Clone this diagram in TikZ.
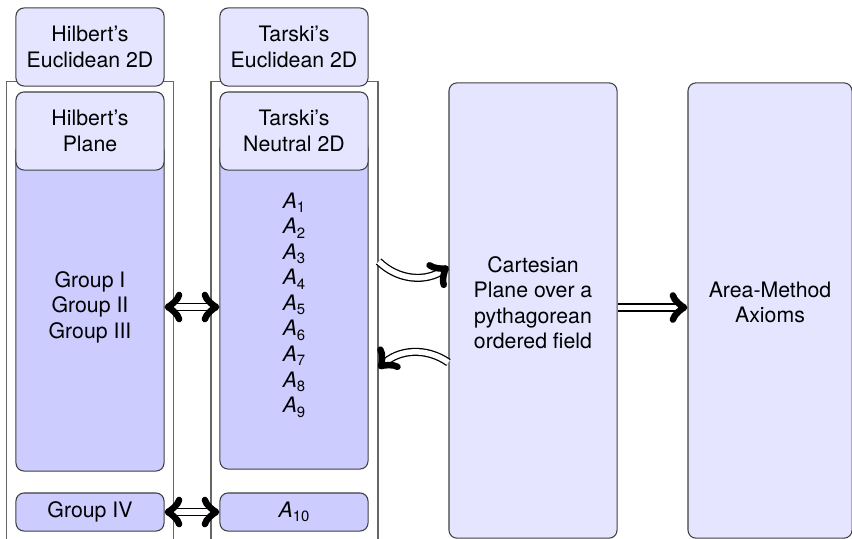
\documentclass[tikz,border=0pt]{standalone}
\usepackage{fontspec}
\setmainfont{TeX Gyre Heros}
\usetikzlibrary{calc}

\tikzset{
  axbox/.style={draw=black!75, line width=0.5pt, rounded corners=3.8pt, align=center, inner sep=0pt, minimum width=69.6pt},
  headbox/.style={axbox, fill=blue!10, minimum height=36.7pt},
  bodybox/.style={axbox, fill=blue!20},
  framebox/.style={draw=black!60, line width=0.6pt, inner sep=0pt, minimum width=78.5pt, minimum height=225pt},
  link/.style={double, double distance=2.6pt, line width=0.6pt},
}
\newcommand{\axm}[1]{\textit{A}\raisebox{-0.4ex}{\scriptsize #1}}

\begin{document}
\begin{tikzpicture}[x=0.47pt,y=0.47pt,yscale=-1,xscale=1]
\useasboundingbox (0,0) rectangle (852,538);
\clip (0,0) rectangle (852,538);

% Hilbert column
\node[framebox] (hilFrame) at (90,321) {};
\node[headbox] (hilEuc) at (90,47) {Hilbert's\\Euclidean 2D};
\node[bodybox, minimum height=154.2pt] (hilBody) at (90,307) {Group I\\Group II\\Group III};
\node[headbox] (hilPlane) at (90,131) {Hilbert's\\Plane};
\node[bodybox, minimum height=17.9pt] (grpIV) at (90,512) {Group IV};

% Tarski column
\node[framebox] (tarFrame) at (294.5,321) {};
\node[headbox] (tarEuc) at (294,47) {Tarski's\\Euclidean 2D};
\node[bodybox, minimum height=154.2pt] (tarBody) at (294,305)
  {\axm{1}\\\axm{2}\\\axm{3}\\\axm{4}\\\axm{5}\\\axm{6}\\\axm{7}\\\axm{8}\\\axm{9}};
\node[headbox] (tarNeutral) at (294,131) {Tarski's\\Neutral 2D};
\node[bodybox, minimum height=17.9pt] (axTen) at (294,512) {\axm{10}};

% models
\node[axbox, fill=blue!10, minimum width=79pt, minimum height=214pt, text depth=7.6pt] (cart) at (533,310.5)
  {Cartesian\\Plane over a\\pythagorean\\ordered field};
\node[axbox, fill=blue!10, minimum width=77.1pt, minimum height=214pt, text depth=7.6pt] (area) at (770,310.5)
  {Area-Method\\Axioms};

% links
\draw[link,<->] (hilBody.east) -- (tarBody.west |- hilBody.east);
\draw[link,<->] (grpIV.east) -- (axTen.west);
\draw[link,->] ($(cart.east)+(0,-3)$) -- ($(area.west)+(0,-3)$);
\draw[link,->] ($(tarFrame.east |- cart.west)+(0,-49)$) to[bend left=40] ($(cart.west)+(0,-44)$);
\draw[link,->] ($(cart.west)+(0,52)$) to[bend left=40] ($(tarFrame.east |- cart.west)+(0,58)$);
\end{tikzpicture}
\end{document}
